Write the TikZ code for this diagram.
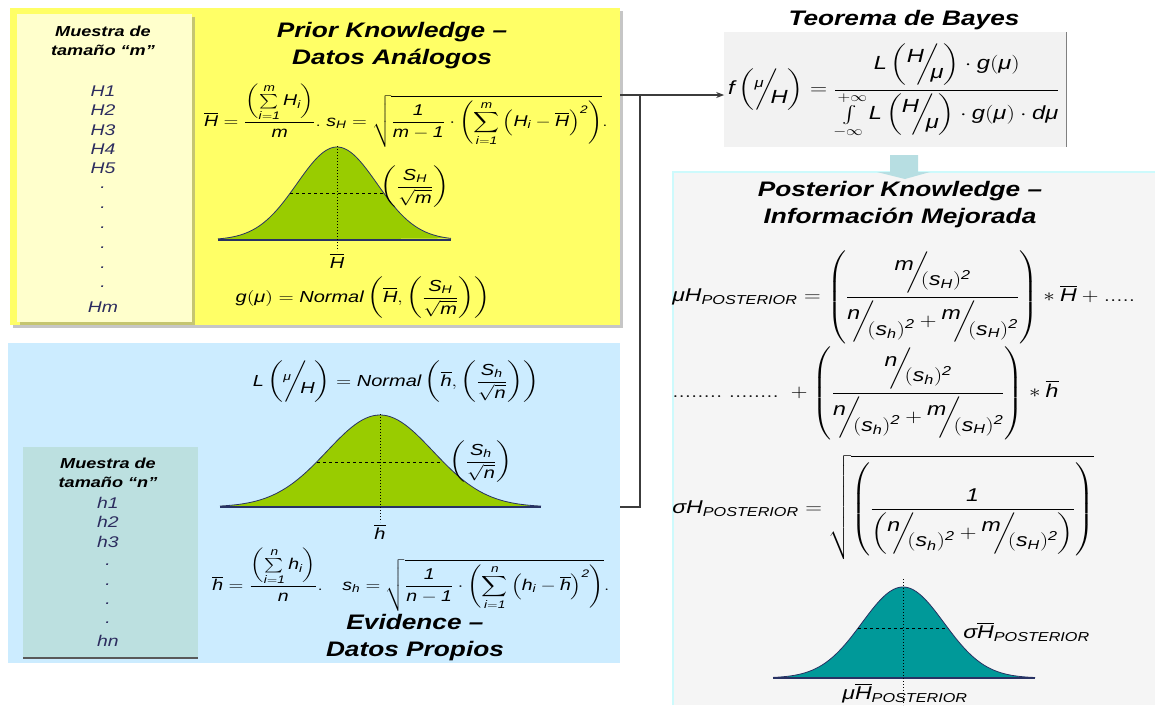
\documentclass[tikz,border=0pt]{standalone}
\usepackage{fix-cm}
\usepackage{amsmath}
\usepackage[no-math]{fontspec}
\setmainfont{Liberation Sans}
\newfontfamily\lsi[NFSSFamily=lsansi]{Liberation Sans}
\DeclareSymbolFont{sfit}{TU}{lsansi}{m}{it}
\makeatletter
\newcommand\setsfitmath{%
\count@=65 \loop \Umathcode\count@="7 \symsfit \count@ \advance\count@\@ne \ifnum\count@<91 \repeat
\count@=97 \loop \Umathcode\count@="7 \symsfit \count@ \advance\count@\@ne \ifnum\count@<123 \repeat
\count@=48 \loop \Umathcode\count@="7 \symsfit \count@ \advance\count@\@ne \ifnum\count@<58 \repeat}
\setsfitmath
\AtBeginDocument{\setsfitmath}
\makeatother
\newcommand\mmu{\Umathchar"7 \symsfit "03BC\relax}
\newcommand\msig{\Umathchar"7 \symsfit "03C3\relax}
\newcommand\sfr[2]{\raisebox{0.7ex}{$#1$}\mkern-6mu\bigg/\mkern-6mu\raisebox{-0.9ex}{$#2$}}
\usetikzlibrary{arrows.meta,shadows}
\definecolor{ylw}{RGB}{255,255,102}
\definecolor{ylwl}{RGB}{255,255,204}
\definecolor{blu}{RGB}{204,236,255}
\definecolor{tealbox}{RGB}{188,224,224}
\definecolor{bellg}{RGB}{153,204,0}
\definecolor{bellt}{RGB}{0,153,153}
\definecolor{navy}{RGB}{40,50,100}
\definecolor{listc}{RGB}{45,45,95}
\definecolor{bayesc}{RGB}{242,242,242}
\definecolor{postc}{RGB}{245,245,245}
\definecolor{postb}{RGB}{205,250,252}
\definecolor{arrowc}{RGB}{183,222,226}
\definecolor{connc}{RGB}{60,60,60}
\begin{document}
\begin{tikzpicture}[x=0.8pt,y=-1pt,xscale=1.25,
  tx/.style={transform shape, inner sep=0pt},
  ttl/.style={tx, font=\fontsize{21}{27}\selectfont\bfseries\itshape, align=center},
  lsth/.style={tx, font=\fontsize{14.5}{18.5}\selectfont\bfseries\itshape, align=center},
  lst/.style={tx, font=\fontsize{15.5}{18}\selectfont\itshape, text=listc},
  fm/.style={tx, font=\fontsize{16}{19}\selectfont},
  fms/.style={tx, font=\fontsize{15.6}{18}\selectfont},
  fmb/.style={tx, font=\fontsize{19}{22}\selectfont},
  fmp/.style={tx, font=\fontsize{18.5}{22}\selectfont},
  panel/.style={draw=none, inner sep=0pt, outer sep=0pt, anchor=north west},
  shad/.style={drop shadow={opacity=0.45, shadow xshift=3pt, shadow yshift=-3pt}},
  conn/.style={draw=connc, line width=1.4pt},
  bellline/.style={draw=navy, line width=0.8pt},
  base/.style={draw=navy, line width=2pt}
]
\useasboundingbox (0,0) rectangle (1155,705);

% ---------- panels ----------
\node[panel, fill=ylw, shad, minimum width=610pt, minimum height=317pt] (prior) at (10,8) {};
\node[panel, fill=ylwl, shad, minimum width=175pt, minimum height=308pt] (plist) at (17,14) {};
\node[panel, fill=blu, minimum width=612pt, minimum height=320pt] (evid) at (8,343) {};
\node[panel, fill=tealbox, minimum width=175pt, minimum height=211pt] (elist) at (23,447) {};
\draw[gray!70!black, line width=1.2pt] (elist.south west) -- (elist.south east);
\node[panel, fill=bayesc, minimum width=342pt, minimum height=115pt] (bayes) at (724,32) {};
\draw[gray, line width=1.5pt] (bayes.north east) -- (bayes.south east);
\node[panel, fill=postc, minimum width=482pt, minimum height=533pt] (post) at (673,172) {};
\draw[postb, line width=1.5pt] (post.south west) -- (post.north west) -- (post.north east);

% ---------- block arrow ----------
\fill[arrowc] (890,155) -- (918,155) -- (918,172) -- (930,172) -- (905,179) -- (877,172) -- (890,172) -- cycle;

% ---------- connectors ----------
\coordinate (j) at (640,95);
\coordinate (k) at (640,507);
\draw[conn, -{Stealth[length=8pt,width=6pt]}] (prior.east |- j) -- (bayes.west |- j);
\draw[conn] (evid.east |- k) -| (j);

% ---------- prior list ----------
\node[lsth] (plh) at (103,41) {Muestra de\\tamaño “m”};
\foreach \t/\yy [count=\i] in {H1/91,H2/110,H3/130,H4/149,H5/168,./188,./208,./228,./248,./268,./287,Hm/307}
  \node[lst] (pl\i) at (103,\yy) {\t};

% ---------- prior titles and formulas ----------
\node[ttl] (pt) at (392,46) {Prior Knowledge –\\Datos Análogos};
\node[fms] (pf) at (406,116) {$\displaystyle \overline{H}=\frac{\left(\sum\limits_{i=1}^{m}H_i\right)}{m}.\; s_H=\sqrt{\frac{1}{m-1}\cdot\left(\sum\limits_{i=1}^{m}\left(H_i-\overline{H}\right)^{2}\right)}.$};

% prior bell
\fill[bellg] (218,240) -- plot[domain=218:451,samples=120] (\x,{240-93*exp(-0.5*((\x-337)/40)*((\x-337)/40))}) -- cycle;
\draw[bellline] plot[domain=218:451,samples=120] (\x,{240-93*exp(-0.5*((\x-337)/40)*((\x-337)/40))});
\draw[base] (218,240) -- (451,240);
\draw[dotted, line width=1pt] (337,146) -- (337,251);
\draw[dashed, line width=0.8pt] (290,193) -- (384,193);
\node[fm] (psl) at (415,187) {$\displaystyle\left(\frac{S_H}{\sqrt{m}}\right)$};
\node[fm] (phb) at (337,261) {$\overline{H}$};
\node[fm] (pg) at (363,298) {$\displaystyle g(\mmu)=Normal\left(\overline{H},\left(\frac{S_H}{\sqrt{m}}\right)\right)$};

% ---------- evidence ----------
\node[lsth] (elh) at (108,473) {Muestra de\\tamaño “n”};
\foreach \t/\yy [count=\i] in {h1/503,h2/522,h3/542,./565,./585,./604,./623,hn/641}
  \node[lst] (el\i) at (108,\yy) {\t};
\node[fm] (el) at (396,382) {$\displaystyle L\left(\sfr{\scriptstyle\mmu}{H}\right)=Normal\left(\overline{h},\left(\frac{S_h}{\sqrt{n}}\right)\right)$};
\fill[bellg] (220,507) -- plot[domain=220:541,samples=120] (\x,{507-92*exp(-0.5*((\x-380)/53)*((\x-380)/53))}) -- cycle;
\draw[bellline] plot[domain=220:541,samples=120] (\x,{507-92*exp(-0.5*((\x-380)/53)*((\x-380)/53))});
\draw[base] (220,507) -- (541,507);
\draw[dotted, line width=1pt] (380,414) -- (380,522);
\draw[dashed, line width=0.8pt] (317,462) -- (443,462);
\node[fm] (esl) at (481,462) {$\displaystyle\left(\frac{S_h}{\sqrt{n}}\right)$};
\node[fm] (ehb) at (380,532) {$\overline{h}$};
\node[fms] (ef) at (411,580) {$\displaystyle \overline{h}=\frac{\left(\sum\limits_{i=1}^{n}h_i\right)}{n}.\quad s_h=\sqrt{\frac{1}{n-1}\cdot\left(\sum\limits_{i=1}^{n}\left(h_i-\overline{h}\right)^{2}\right)}.$};
\node[ttl] (et) at (415,638) {Evidence –\\Datos Propios};

% ---------- Bayes ----------
\node[ttl] (bt) at (904,20) {Teorema de Bayes};
\node[fmb] (bf) at (894,90) {$\displaystyle f\left(\sfr{\scriptstyle\mmu}{H}\right)=\frac{L\left(\sfr{H}{\mmu}\right)\cdot g(\mmu)}{\int\limits_{-\infty}^{+\infty}L\left(\sfr{H}{\mmu}\right)\cdot g(\mmu)\cdot d\mmu}$};

% ---------- Posterior ----------
\node[ttl] (postt) at (900,205) {Posterior Knowledge –\\Información Mejorada};
\node[fmp, anchor=west] (m1) at (672,297) {$\displaystyle \mmu H_{POSTERIOR}=\left(\frac{\sfr{m}{(s_H)^2}}{\sfr{n}{(s_h)^2}+\sfr{m}{(s_H)^2}}\right)\ast\overline{H}+.....$};
\node[fmp, anchor=west] (m2) at (672,393) {$\displaystyle ........\ ........\ +\left(\frac{\sfr{n}{(s_h)^2}}{\sfr{n}{(s_h)^2}+\sfr{m}{(s_H)^2}}\right)\ast\overline{h}$};
\node[fmp, anchor=west] (m3) at (672,507) {$\displaystyle \msig H_{POSTERIOR}=\sqrt{\left(\frac{1}{\left(\sfr{n}{(s_h)^2}+\sfr{m}{(s_H)^2}\right)}\right)}$};

\fill[bellt] (773,678) -- plot[domain=773:1035,samples=120] (\x,{678-91*exp(-0.5*((\x-903)/41)*((\x-903)/41))}) -- cycle;
\draw[bellline] plot[domain=773:1035,samples=120] (\x,{678-91*exp(-0.5*((\x-903)/41)*((\x-903)/41))});
\draw[base] (773,678) -- (1035,678);
\draw[dotted, line width=1pt] (903,579) -- (903,705);
\draw[dashed, line width=0.8pt] (858,628) -- (948,628);
\node[fmp, anchor=west] (sl) at (963,632) {$\msig\overline{H}_{POSTERIOR}$};
\node[fmp] (ml) at (905,693) {$\mmu\overline{H}_{POSTERIOR}$};
\end{tikzpicture}
\end{document}
